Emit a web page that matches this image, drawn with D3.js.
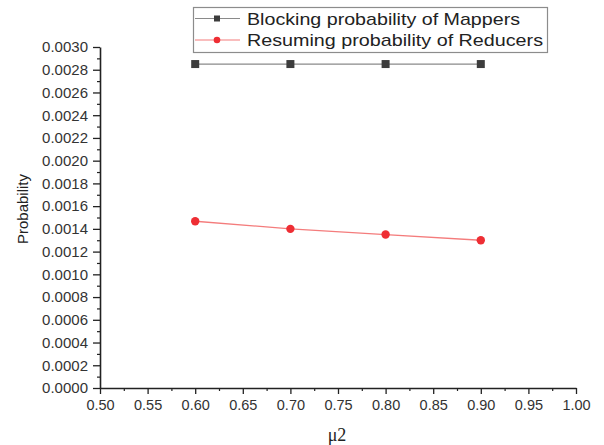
<!DOCTYPE html>
<html>
<head>
<meta charset="utf-8">
<script src="https://cdn.jsdelivr.net/npm/d3@7"></script>
<style>
  html, body { margin: 0; padding: 0; background: #fff; }
  svg { display: block; }
</style>
</head>
<body>
<div id="chart"></div>
<script>
// ── Data ─────────────────────────────────────────────────────────────────────
const muValues = [0.6, 0.7, 0.8, 0.9]
const blockingMappers = [0.00285, 0.00285, 0.00285, 0.00285]
const resumingReducers = [0.001467, 0.001400, 0.001350, 0.001300]
const seriesNames = ['Blocking probability of Mappers', 'Resuming probability of Reducers']
const xTicks = [0.50, 0.55, 0.60, 0.65, 0.70, 0.75, 0.80, 0.85, 0.90, 0.95, 1.00]
const yTicks = d3.range(0, 16).map(i => i * 0.0002)
const xLabel = 'μ2'
const yLabel = 'Probability'

// ── Layout ───────────────────────────────────────────────────────────────────
const W = 604, H = 445
const plot = { left: 100, right: 576, top: 47, bottom: 388 }

const svg = d3.select('#chart').append('svg')
  .attr('width', W).attr('height', H)
  .attr('viewBox', `0 0 ${W} ${H}`)

const x = d3.scaleLinear().domain([0.5, 1.0]).range([plot.left, plot.right])
const y = d3.scaleLinear().domain([0, 0.003]).range([plot.bottom, plot.top])

const tickFont = 'Liberation Sans, Arial, sans-serif'

// ── Axes ─────────────────────────────────────────────────────────────────────
const xMinor = xTicks.slice(0, -1).map(v => v + 0.025)
const yMinor = yTicks.slice(0, -1).map(v => v + 0.0001)

svg.append('g')
  .attr('transform', `translate(0,${plot.bottom})`)
  .call(d3.axisBottom(x).tickValues(xMinor).tickSize(3).tickFormat(''))
  .call(g => g.select('.domain').remove())
  .call(g => g.selectAll('line').attr('stroke', '#222').attr('stroke-width', 1.2))

svg.append('g')
  .attr('transform', `translate(${plot.left},0)`)
  .call(d3.axisLeft(y).tickValues(yMinor).tickSize(3).tickFormat(''))
  .call(g => g.select('.domain').remove())
  .call(g => g.selectAll('line').attr('stroke', '#222').attr('stroke-width', 1.2))

const xAxis = svg.append('g')
  .attr('transform', `translate(0,${plot.bottom})`)
  .call(d3.axisBottom(x).tickValues(xTicks).tickSize(6).tickSizeOuter(0).tickPadding(6)
    .tickFormat(d3.format('.2f')))
xAxis.select('.domain').attr('stroke', '#222').attr('stroke-width', 1.6)
xAxis.selectAll('line').attr('stroke', '#222').attr('stroke-width', 1.3)
xAxis.selectAll('text')
  .attr('font-family', tickFont).attr('font-size', 14.5).attr('fill', '#333')

const yAxis = svg.append('g')
  .attr('transform', `translate(${plot.left},0)`)
  .call(d3.axisLeft(y).tickValues(yTicks).tickSize(7).tickSizeOuter(0).tickPadding(5)
    .tickFormat(d3.format('.4f')))
yAxis.select('.domain').attr('stroke', '#222').attr('stroke-width', 1.6)
yAxis.selectAll('line').attr('stroke', '#222').attr('stroke-width', 1.3)
yAxis.selectAll('text')
  .attr('font-family', tickFont).attr('font-size', 15).attr('fill', '#333')

// Axis titles
svg.append('text')
  .attr('x', (plot.left + plot.right) / 2 - 1)
  .attr('y', 441)
  .attr('text-anchor', 'middle')
  .attr('font-family', 'Liberation Serif, Times New Roman, serif')
  .attr('font-size', 18)
  .attr('fill', '#222')
  .text(xLabel)

svg.append('text')
  .attr('transform', `translate(28,209) rotate(-90)`)
  .attr('text-anchor', 'middle')
  .attr('font-family', tickFont)
  .attr('font-size', 15)
  .attr('fill', '#222')
  .text(yLabel)

// ── Series ───────────────────────────────────────────────────────────────────
const line = d3.line().x(d => x(d[0])).y(d => y(d[1]))
const blockPts = muValues.map((m, i) => [m, blockingMappers[i]])
const resumePts = muValues.map((m, i) => [m, resumingReducers[i]])

svg.append('path').datum(blockPts)
  .attr('d', line).attr('fill', 'none')
  .attr('stroke', '#8a8a8a').attr('stroke-width', 1.2)

svg.append('g').selectAll('rect')
  .data(blockPts).join('rect')
  .attr('x', d => x(d[0]) - 4).attr('y', d => y(d[1]) - 4)
  .attr('width', 8).attr('height', 8)
  .attr('fill', '#3c3c3c')

svg.append('path').datum(resumePts)
  .attr('d', line).attr('fill', 'none')
  .attr('stroke', '#f47c7c').attr('stroke-width', 1.3)

svg.append('g').selectAll('circle')
  .data(resumePts).join('circle')
  .attr('cx', d => x(d[0])).attr('cy', d => y(d[1]))
  .attr('r', 4.2)
  .attr('fill', '#ee2e34')

// ── Legend ───────────────────────────────────────────────────────────────────
const legend = svg.append('g')
legend.append('rect')
  .attr('x', 193.5).attr('y', 7.5).attr('width', 354).attr('height', 45)
  .attr('fill', '#fff').attr('stroke', '#8c8c8c').attr('stroke-width', 1.2)

const legendRows = [
  { name: seriesNames[0], stroke: '#8a8a8a', fill: '#3c3c3c', shape: 'square', width: 273 },
  { name: seriesNames[1], stroke: '#f47c7c', fill: '#ee2e34', shape: 'circle', width: 296 },
]
legendRows.forEach((r, i) => {
  const cy = 18.5 + i * 21.5
  legend.append('line')
    .attr('x1', 195).attr('x2', 240).attr('y1', cy).attr('y2', cy)
    .attr('stroke', r.stroke).attr('stroke-width', 1.2)
  if (r.shape === 'square') {
    legend.append('rect').attr('x', 214).attr('y', cy - 3).attr('width', 6).attr('height', 6).attr('fill', r.fill)
  } else {
    legend.append('circle').attr('cx', 217).attr('cy', cy).attr('r', 3.3).attr('fill', r.fill)
  }
  legend.append('text')
    .attr('x', 247).attr('y', cy + 6)
    .attr('font-family', tickFont).attr('font-size', 17)
    .attr('textLength', r.width).attr('lengthAdjust', 'spacingAndGlyphs')
    .attr('fill', '#222')
    .text(r.name)
})
</script>
</body>
</html>
